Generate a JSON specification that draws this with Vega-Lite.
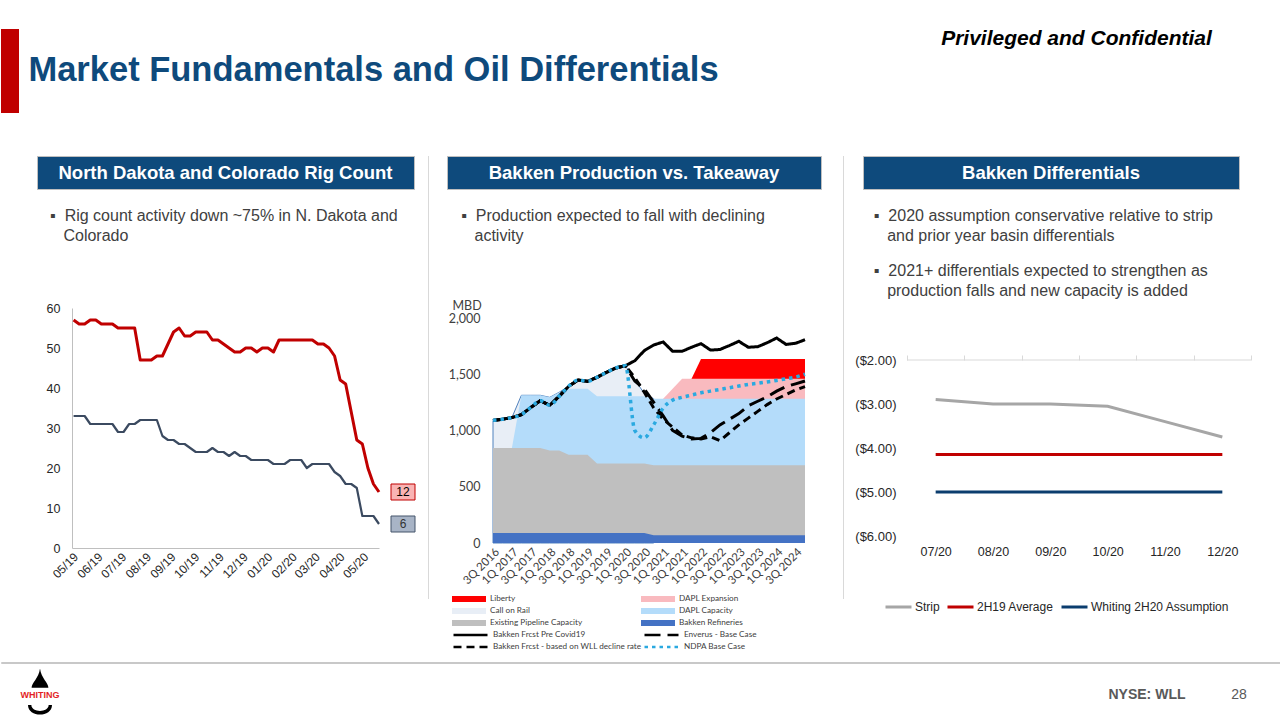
{
"$schema": "https://vega.github.io/schema/vega-lite/v6.json",
"background": "white",
"padding": {"left": 0, "top": 28, "right": 0, "bottom": 0},
"config": {"view": {"stroke": null}, "font": "Liberation Sans", "axis": {"labelFont": "Liberation Sans", "titleFont": "Liberation Sans"}, "legend": {"labelFont": "Liberation Sans"}},
"resolve": {"scale": {"color": "independent", "fill": "independent", "stroke": "independent", "strokeDash": "independent"}},
"spacing": 37,
"vconcat": [
 {"spacing": 220, "hconcat": [
  {"spacing": 9, "hconcat": [
   {"width": 18, "height": 84, "view": {"fill": "#c00000"}, "data": {"values": [{}]}, "mark": {"type": "text", "text": ""}, "encoding": {}},
   {"width": 691, "height": 84, "data": {"values": [{}]}, "mark": {"type": "text", "text": "Market Fundamentals and Oil Differentials", "font": "Liberation Sans", "fontSize": 34.5, "fontWeight": "bold", "color": "#0e4a7c", "baseline": "middle"}, "encoding": {}}
  ]},
  {"width": 275, "height": 20, "data": {"values": [{}]}, "mark": {"type": "text", "text": "Privileged and Confidential", "font": "Liberation Sans", "fontSize": 21, "fontWeight": "bold", "fontStyle": "italic", "color": "#000000", "baseline": "middle"}, "encoding": {}}
 ]},
 {"resolve": {"scale": {"color": "independent", "fill": "independent", "stroke": "independent", "strokeDash": "independent"}}, "spacing": 3, "vconcat": [
  {"resolve": {"scale": {"color": "independent", "fill": "independent", "stroke": "independent", "strokeDash": "independent"}}, "spacing": 34, "hconcat": [
   {"width": 1, "height": 1, "data": {"values": [{}]}, "mark": {"type": "text", "text": ""}, "encoding": {}},
   {"resolve": {"scale": {"color": "independent", "fill": "independent", "stroke": "independent", "strokeDash": "independent"}}, "spacing": 11, "hconcat": [
    {"resolve": {"scale": {"color": "independent", "fill": "independent", "stroke": "independent", "strokeDash": "independent"}}, "spacing": 18, "vconcat": [
     {"width": 377, "height": 33, "view": {"fill": "#0e4a7c", "stroke": "#bfbfbf", "strokeWidth": 1}, "data": {"values": [{"t": "North Dakota and Colorado Rig Count"}]}, "mark": {"type": "text", "color": "white", "font": "Liberation Sans", "fontWeight": "bold", "fontSize": 18.5, "baseline": "middle"}, "encoding": {"text": {"field": "t"}}},
     {"resolve": {"scale": {"color": "independent", "fill": "independent", "stroke": "independent", "strokeDash": "independent"}}, "spacing": 0, "hconcat": [
      {"width": 9, "height": 1, "data": {"values": [{}]}, "mark": {"type": "text", "text": ""}, "encoding": {}},
      {"width": 307, "height": 240,
       "title": {"text": ["▪\u00a0\u00a0Rig count activity down ~75% in N. Dakota and", "\u200b\u00a0\u00a0\u00a0Colorado"], "anchor": "start", "frame": "bounds", "offset": 58, "font": "Liberation Sans", "fontSize": 16, "fontWeight": "normal", "color": "#404040", "lineHeight": 20, "dx": 4},
       "encoding": {
        "x": {"field": "d", "type": "temporal", "scale": {"domain": [{"year": 2019, "month": 5, "date": 1}, {"year": 2020, "month": 5, "date": 22}]}, "axis": {"format": "%m/%y", "tickCount": {"interval": "month", "step": 1}, "labelAngle": -45, "grid": false, "ticks": false, "domainColor": "#bfbfbf", "labelFontSize": 12, "labelColor": "#262626", "labelPadding": 3, "labelOverlap": false, "labelFlush": false, "title": null}},
        "y": {"field": "v", "type": "quantitative", "scale": {"domain": [0, 60]}, "axis": {"values": [0, 10, 20, 30, 40, 50, 60], "grid": false, "ticks": false, "domainColor": "#bfbfbf", "labelFontSize": 12.5, "labelColor": "#262626", "labelPadding": 12, "title": null}}
       },
       "layer": [
        {"data": {"values": [
         {"d": "2019-05-03", "ND": 57, "CO": 33}, {"d": "2019-05-10", "ND": 56, "CO": 33}, {"d": "2019-05-17", "ND": 56, "CO": 33}, {"d": "2019-05-24", "ND": 57, "CO": 31},
         {"d": "2019-05-31", "ND": 57, "CO": 31}, {"d": "2019-06-07", "ND": 56, "CO": 31}, {"d": "2019-06-14", "ND": 56, "CO": 31}, {"d": "2019-06-21", "ND": 56, "CO": 31},
         {"d": "2019-06-28", "ND": 55, "CO": 29}, {"d": "2019-07-05", "ND": 55, "CO": 29}, {"d": "2019-07-12", "ND": 55, "CO": 31}, {"d": "2019-07-19", "ND": 55, "CO": 31},
         {"d": "2019-07-26", "ND": 47, "CO": 32}, {"d": "2019-08-02", "ND": 47, "CO": 32}, {"d": "2019-08-09", "ND": 47, "CO": 32}, {"d": "2019-08-16", "ND": 48, "CO": 32},
         {"d": "2019-08-23", "ND": 48, "CO": 28}, {"d": "2019-08-30", "ND": 51, "CO": 27}, {"d": "2019-09-06", "ND": 54, "CO": 27}, {"d": "2019-09-13", "ND": 55, "CO": 26},
         {"d": "2019-09-20", "ND": 53, "CO": 26}, {"d": "2019-09-27", "ND": 53, "CO": 25}, {"d": "2019-10-04", "ND": 54, "CO": 24}, {"d": "2019-10-11", "ND": 54, "CO": 24},
         {"d": "2019-10-18", "ND": 54, "CO": 24}, {"d": "2019-10-25", "ND": 52, "CO": 25}, {"d": "2019-11-01", "ND": 52, "CO": 24}, {"d": "2019-11-08", "ND": 51, "CO": 24},
         {"d": "2019-11-15", "ND": 50, "CO": 23}, {"d": "2019-11-22", "ND": 49, "CO": 24}, {"d": "2019-11-29", "ND": 49, "CO": 23}, {"d": "2019-12-06", "ND": 50, "CO": 23},
         {"d": "2019-12-13", "ND": 50, "CO": 22}, {"d": "2019-12-20", "ND": 49, "CO": 22}, {"d": "2019-12-27", "ND": 50, "CO": 22}, {"d": "2020-01-03", "ND": 50, "CO": 22},
         {"d": "2020-01-10", "ND": 49, "CO": 21}, {"d": "2020-01-17", "ND": 52, "CO": 21}, {"d": "2020-01-24", "ND": 52, "CO": 21}, {"d": "2020-01-31", "ND": 52, "CO": 22},
         {"d": "2020-02-07", "ND": 52, "CO": 22}, {"d": "2020-02-14", "ND": 52, "CO": 22}, {"d": "2020-02-21", "ND": 52, "CO": 20}, {"d": "2020-02-28", "ND": 52, "CO": 21},
         {"d": "2020-03-06", "ND": 51, "CO": 21}, {"d": "2020-03-13", "ND": 51, "CO": 21}, {"d": "2020-03-20", "ND": 50, "CO": 21}, {"d": "2020-03-27", "ND": 48, "CO": 19},
         {"d": "2020-04-03", "ND": 42, "CO": 18}, {"d": "2020-04-10", "ND": 41, "CO": 16}, {"d": "2020-04-17", "ND": 34, "CO": 16}, {"d": "2020-04-24", "ND": 27, "CO": 15},
         {"d": "2020-05-01", "ND": 26, "CO": 8}, {"d": "2020-05-08", "ND": 20, "CO": 8}, {"d": "2020-05-15", "ND": 16, "CO": 8}, {"d": "2020-05-22", "ND": 14, "CO": 6}
        ]},
         "transform": [{"fold": ["ND", "CO"], "as": ["s", "v"]}],
         "mark": {"type": "line", "strokeJoin": "round"},
         "encoding": {"color": {"field": "s", "type": "nominal", "scale": {"domain": ["ND", "CO"], "range": ["#c00000", "#3b4a60"]}, "legend": null},
                      "strokeWidth": {"condition": {"test": "datum.s === 'ND'", "value": 3}, "value": 2.2}}},
        {"data": {"values": [{"d": "2020-05-22", "v": 14, "s": "ND", "lbl": "12"}, {"d": "2020-05-22", "v": 6, "s": "CO", "lbl": "6"}]},
         "layer": [
          {"mark": {"type": "point", "shape": "M-1.5,-1H1.5V1H-1.5Z", "size": 256, "filled": true, "opacity": 1, "strokeWidth": 1, "xOffset": 24},
           "encoding": {"fill": {"condition": {"test": "datum.s === 'ND'", "value": "#f9b4b4"}, "value": "#a8b4c6"}, "stroke": {"condition": {"test": "datum.s === 'ND'", "value": "#c00000"}, "value": "#44546a"}}},
          {"mark": {"type": "text", "xOffset": 24, "fontSize": 12, "font": "Liberation Sans"},
           "encoding": {"text": {"field": "lbl"}, "color": {"condition": {"test": "datum.s === 'ND'", "value": "#000000"}, "value": "#333333"}}}
         ]}
       ]}
     ]}
    ]},
    {"resolve": {"scale": {"color": "independent", "fill": "independent", "stroke": "independent", "strokeDash": "independent"}}, "spacing": 17, "hconcat": [
     {"width": 1, "height": 443, "view": {"fill": "#d9d9d9"}, "data": {"values": [{}]}, "mark": {"type": "text", "text": ""}, "encoding": {}},
     {"resolve": {"scale": {"color": "independent", "fill": "independent", "stroke": "independent", "strokeDash": "independent"}}, "spacing": 21, "hconcat": [
      {"resolve": {"scale": {"color": "independent", "fill": "independent", "stroke": "independent", "strokeDash": "independent"}}, "spacing": 18, "vconcat": [
       {"width": 374, "height": 33, "view": {"fill": "#0e4a7c", "stroke": "#bfbfbf", "strokeWidth": 1}, "data": {"values": [{"t": "Bakken Production vs. Takeaway"}]}, "mark": {"type": "text", "color": "white", "font": "Liberation Sans", "fontWeight": "bold", "fontSize": 18.5, "baseline": "middle"}, "encoding": {"text": {"field": "t"}}},
       {"resolve": {"scale": {"color": "independent", "fill": "independent", "stroke": "independent", "strokeDash": "independent"}}, "spacing": 0, "hconcat": [
        {"width": 1, "height": 1, "data": {"values": [{}]}, "mark": {"type": "text", "text": ""}, "encoding": {}},
        {"width": 312, "height": 225,
         "title": {"text": ["▪\u00a0\u00a0Production expected to fall with declining", "\u200b\u00a0\u00a0\u00a0activity"], "anchor": "start", "frame": "bounds", "offset": 55, "font": "Liberation Sans", "fontSize": 16, "fontWeight": "normal", "color": "#404040", "lineHeight": 20, "dx": 13},
         "data": {"values": [
          {"q": "3Q 2016", "Bakken Refineries": 90, "Existing Pipeline Capacity": 845, "DAPL Capacity": 845, "Call on Rail": 1090, "Bakken Frcst Pre Covid19": 1090, "Enverus - Base Case": 1090, "Bakken Frcst - based on WLL decline rate": 1090, "NDPA Base Case": 1090},
          {"q": "4Q 2016", "Bakken Refineries": 90, "Existing Pipeline Capacity": 845, "DAPL Capacity": 845, "Call on Rail": 1100, "Bakken Frcst Pre Covid19": 1100, "Enverus - Base Case": 1100, "Bakken Frcst - based on WLL decline rate": 1100, "NDPA Base Case": 1100},
          {"q": "1Q 2017", "Bakken Refineries": 90, "Existing Pipeline Capacity": 845, "DAPL Capacity": 845, "Call on Rail": 1115, "Bakken Frcst Pre Covid19": 1115, "Enverus - Base Case": 1115, "Bakken Frcst - based on WLL decline rate": 1115, "NDPA Base Case": 1115},
          {"q": "2Q 2017", "Bakken Refineries": 90, "Existing Pipeline Capacity": 845, "DAPL Capacity": 1313, "Call on Rail": 1313, "Bakken Frcst Pre Covid19": 1140, "Enverus - Base Case": 1140, "Bakken Frcst - based on WLL decline rate": 1140, "NDPA Base Case": 1140},
          {"q": "3Q 2017", "Bakken Refineries": 90, "Existing Pipeline Capacity": 845, "DAPL Capacity": 1313, "Call on Rail": 1313, "Bakken Frcst Pre Covid19": 1205, "Enverus - Base Case": 1205, "Bakken Frcst - based on WLL decline rate": 1205, "NDPA Base Case": 1205},
          {"q": "4Q 2017", "Bakken Refineries": 90, "Existing Pipeline Capacity": 845, "DAPL Capacity": 1313, "Call on Rail": 1313, "Bakken Frcst Pre Covid19": 1265, "Enverus - Base Case": 1265, "Bakken Frcst - based on WLL decline rate": 1265, "NDPA Base Case": 1265},
          {"q": "1Q 2018", "Bakken Refineries": 90, "Existing Pipeline Capacity": 822, "DAPL Capacity": 1295, "Call on Rail": 1295, "Bakken Frcst Pre Covid19": 1224, "Enverus - Base Case": 1224, "Bakken Frcst - based on WLL decline rate": 1224, "NDPA Base Case": 1224},
          {"q": "2Q 2018", "Bakken Refineries": 90, "Existing Pipeline Capacity": 822, "DAPL Capacity": 1340, "Call on Rail": 1340, "Bakken Frcst Pre Covid19": 1304, "Enverus - Base Case": 1304, "Bakken Frcst - based on WLL decline rate": 1304, "NDPA Base Case": 1304},
          {"q": "3Q 2018", "Bakken Refineries": 90, "Existing Pipeline Capacity": 785, "DAPL Capacity": 1372, "Call on Rail": 1393, "Bakken Frcst Pre Covid19": 1393, "Enverus - Base Case": 1393, "Bakken Frcst - based on WLL decline rate": 1393, "NDPA Base Case": 1393},
          {"q": "4Q 2018", "Bakken Refineries": 90, "Existing Pipeline Capacity": 785, "DAPL Capacity": 1372, "Call on Rail": 1449, "Bakken Frcst Pre Covid19": 1449, "Enverus - Base Case": 1449, "Bakken Frcst - based on WLL decline rate": 1449, "NDPA Base Case": 1449},
          {"q": "1Q 2019", "Bakken Refineries": 90, "Existing Pipeline Capacity": 785, "DAPL Capacity": 1372, "Call on Rail": 1437, "Bakken Frcst Pre Covid19": 1437, "Enverus - Base Case": 1437, "Bakken Frcst - based on WLL decline rate": 1437, "NDPA Base Case": 1437},
          {"q": "2Q 2019", "Bakken Refineries": 90, "Existing Pipeline Capacity": 706, "DAPL Capacity": 1304, "Call on Rail": 1473, "Bakken Frcst Pre Covid19": 1473, "Enverus - Base Case": 1473, "Bakken Frcst - based on WLL decline rate": 1473, "NDPA Base Case": 1473},
          {"q": "3Q 2019", "Bakken Refineries": 90, "Existing Pipeline Capacity": 706, "DAPL Capacity": 1304, "Call on Rail": 1517, "Bakken Frcst Pre Covid19": 1517, "Enverus - Base Case": 1517, "Bakken Frcst - based on WLL decline rate": 1517, "NDPA Base Case": 1517},
          {"q": "4Q 2019", "Bakken Refineries": 90, "Existing Pipeline Capacity": 706, "DAPL Capacity": 1304, "Call on Rail": 1556, "Bakken Frcst Pre Covid19": 1556, "Enverus - Base Case": 1556, "Bakken Frcst - based on WLL decline rate": 1556, "NDPA Base Case": 1556},
          {"q": "1Q 2020", "Bakken Refineries": 90, "Existing Pipeline Capacity": 706, "DAPL Capacity": 1304, "Call on Rail": 1576, "Bakken Frcst Pre Covid19": 1576, "Enverus - Base Case": 1576, "Bakken Frcst - based on WLL decline rate": 1576, "NDPA Base Case": 1576},
          {"q": "2Q 2020", "Bakken Refineries": 90, "Existing Pipeline Capacity": 706, "DAPL Capacity": 1304, "Call on Rail": 1450, "Bakken Frcst Pre Covid19": 1620, "Enverus - Base Case": 1440, "Bakken Frcst - based on WLL decline rate": 1470, "NDPA Base Case": 1000},
          {"q": "3Q 2020", "Bakken Refineries": 90, "Existing Pipeline Capacity": 706, "DAPL Capacity": 1304, "Call on Rail": 1330, "Bakken Frcst Pre Covid19": 1710, "Enverus - Base Case": 1370, "Bakken Frcst - based on WLL decline rate": 1340, "NDPA Base Case": 935},
          {"q": "4Q 2020", "Bakken Refineries": 68, "Existing Pipeline Capacity": 692, "DAPL Capacity": 1282, "Call on Rail": 1282, "Bakken Frcst Pre Covid19": 1760, "Enverus - Base Case": 1250, "Bakken Frcst - based on WLL decline rate": 1200, "NDPA Base Case": 1050},
          {"q": "1Q 2021", "Bakken Refineries": 68, "Existing Pipeline Capacity": 692, "DAPL Capacity": 1282, "DAPL Expansion": 1282, "Bakken Frcst Pre Covid19": 1787, "Enverus - Base Case": 1130, "Bakken Frcst - based on WLL decline rate": 1100, "NDPA Base Case": 1200},
          {"q": "2Q 2021", "Bakken Refineries": 68, "Existing Pipeline Capacity": 692, "DAPL Capacity": 1282, "DAPL Expansion": 1371, "Bakken Frcst Pre Covid19": 1704, "Enverus - Base Case": 1000, "Bakken Frcst - based on WLL decline rate": 1030, "NDPA Base Case": 1270},
          {"q": "3Q 2021", "Bakken Refineries": 68, "Existing Pipeline Capacity": 692, "DAPL Capacity": 1282, "DAPL Expansion": 1460, "Bakken Frcst Pre Covid19": 1704, "Enverus - Base Case": 950, "Bakken Frcst - based on WLL decline rate": 960, "NDPA Base Case": 1295},
          {"q": "4Q 2021", "Bakken Refineries": 68, "Existing Pipeline Capacity": 692, "DAPL Capacity": 1282, "DAPL Expansion": 1460, "Liberty": 1460, "Bakken Frcst Pre Covid19": 1740, "Enverus - Base Case": 925, "Bakken Frcst - based on WLL decline rate": 935, "NDPA Base Case": 1315},
          {"q": "1Q 2022", "Bakken Refineries": 68, "Existing Pipeline Capacity": 692, "DAPL Capacity": 1282, "DAPL Expansion": 1460, "Liberty": 1635, "Bakken Frcst Pre Covid19": 1772, "Enverus - Base Case": 930, "Bakken Frcst - based on WLL decline rate": 925, "NDPA Base Case": 1335},
          {"q": "2Q 2022", "Bakken Refineries": 68, "Existing Pipeline Capacity": 692, "DAPL Capacity": 1282, "DAPL Expansion": 1460, "Liberty": 1635, "Bakken Frcst Pre Covid19": 1715, "Enverus - Base Case": 980, "Bakken Frcst - based on WLL decline rate": 945, "NDPA Base Case": 1350},
          {"q": "3Q 2022", "Bakken Refineries": 68, "Existing Pipeline Capacity": 692, "DAPL Capacity": 1282, "DAPL Expansion": 1460, "Liberty": 1635, "Bakken Frcst Pre Covid19": 1720, "Enverus - Base Case": 1050, "Bakken Frcst - based on WLL decline rate": 910, "NDPA Base Case": 1365},
          {"q": "4Q 2022", "Bakken Refineries": 68, "Existing Pipeline Capacity": 692, "DAPL Capacity": 1282, "DAPL Expansion": 1460, "Liberty": 1635, "Bakken Frcst Pre Covid19": 1755, "Enverus - Base Case": 1100, "Bakken Frcst - based on WLL decline rate": 980, "NDPA Base Case": 1380},
          {"q": "1Q 2023", "Bakken Refineries": 68, "Existing Pipeline Capacity": 692, "DAPL Capacity": 1282, "DAPL Expansion": 1460, "Liberty": 1635, "Bakken Frcst Pre Covid19": 1793, "Enverus - Base Case": 1150, "Bakken Frcst - based on WLL decline rate": 1050, "NDPA Base Case": 1395},
          {"q": "2Q 2023", "Bakken Refineries": 68, "Existing Pipeline Capacity": 692, "DAPL Capacity": 1282, "DAPL Expansion": 1460, "Liberty": 1635, "Bakken Frcst Pre Covid19": 1740, "Enverus - Base Case": 1220, "Bakken Frcst - based on WLL decline rate": 1110, "NDPA Base Case": 1410},
          {"q": "3Q 2023", "Bakken Refineries": 68, "Existing Pipeline Capacity": 692, "DAPL Capacity": 1282, "DAPL Expansion": 1460, "Liberty": 1635, "Bakken Frcst Pre Covid19": 1745, "Enverus - Base Case": 1260, "Bakken Frcst - based on WLL decline rate": 1170, "NDPA Base Case": 1420},
          {"q": "4Q 2023", "Bakken Refineries": 68, "Existing Pipeline Capacity": 692, "DAPL Capacity": 1282, "DAPL Expansion": 1460, "Liberty": 1635, "Bakken Frcst Pre Covid19": 1780, "Enverus - Base Case": 1300, "Bakken Frcst - based on WLL decline rate": 1230, "NDPA Base Case": 1432},
          {"q": "1Q 2024", "Bakken Refineries": 68, "Existing Pipeline Capacity": 692, "DAPL Capacity": 1282, "DAPL Expansion": 1460, "Liberty": 1635, "Bakken Frcst Pre Covid19": 1822, "Enverus - Base Case": 1350, "Bakken Frcst - based on WLL decline rate": 1280, "NDPA Base Case": 1445},
          {"q": "2Q 2024", "Bakken Refineries": 68, "Existing Pipeline Capacity": 692, "DAPL Capacity": 1282, "DAPL Expansion": 1460, "Liberty": 1635, "Bakken Frcst Pre Covid19": 1765, "Enverus - Base Case": 1390, "Bakken Frcst - based on WLL decline rate": 1320, "NDPA Base Case": 1460},
          {"q": "3Q 2024", "Bakken Refineries": 68, "Existing Pipeline Capacity": 692, "DAPL Capacity": 1282, "DAPL Expansion": 1460, "Liberty": 1635, "Bakken Frcst Pre Covid19": 1775, "Enverus - Base Case": 1415, "Bakken Frcst - based on WLL decline rate": 1360, "NDPA Base Case": 1475},
          {"q": "4Q 2024", "Bakken Refineries": 68, "Existing Pipeline Capacity": 692, "DAPL Capacity": 1282, "DAPL Expansion": 1460, "Liberty": 1635, "Bakken Frcst Pre Covid19": 1807, "Enverus - Base Case": 1440, "Bakken Frcst - based on WLL decline rate": 1390, "NDPA Base Case": 1500}
         ]},
         "transform": [{"fold": ["Liberty", "DAPL Expansion", "Call on Rail", "DAPL Capacity", "Existing Pipeline Capacity", "Bakken Refineries", "Bakken Frcst Pre Covid19", "Enverus - Base Case", "Bakken Frcst - based on WLL decline rate", "NDPA Base Case"], "as": ["s", "v"]}],
         "encoding": {
          "x": {"field": "q", "type": "ordinal", "scale": {"type": "point", "padding": 0, "domain": ["3Q 2016","4Q 2016","1Q 2017","2Q 2017","3Q 2017","4Q 2017","1Q 2018","2Q 2018","3Q 2018","4Q 2018","1Q 2019","2Q 2019","3Q 2019","4Q 2019","1Q 2020","2Q 2020","3Q 2020","4Q 2020","1Q 2021","2Q 2021","3Q 2021","4Q 2021","1Q 2022","2Q 2022","3Q 2022","4Q 2022","1Q 2023","2Q 2023","3Q 2023","4Q 2023","1Q 2024","2Q 2024","3Q 2024","4Q 2024"]},
                "axis": {"values": ["3Q 2016","1Q 2017","3Q 2017","1Q 2018","3Q 2018","1Q 2019","3Q 2019","1Q 2020","3Q 2020","1Q 2021","3Q 2021","1Q 2022","3Q 2022","1Q 2023","3Q 2023","1Q 2024","3Q 2024"], "labelAngle": -45, "domain": false, "ticks": false, "grid": false, "title": null, "labelFont": "Lato", "labelFontSize": 11.5, "labelColor": "#404040", "labelPadding": 3}},
          "y": {"field": "v", "type": "quantitative", "stack": null, "scale": {"domain": [0, 2000], "nice": false},
                "axis": {"values": [0, 500, 1000, 1500, 2000], "format": ",.0f", "domain": false, "ticks": false, "grid": false, "title": "MBD", "titleAngle": 0, "titleX": -41, "titleY": -9, "titleAlign": "left", "titleBaseline": "alphabetic", "titleFont": "Lato", "titleFontSize": 12.5, "titleFontWeight": "normal", "titleColor": "#404040", "labelFont": "Lato", "labelFontSize": 12.5, "labelColor": "#404040", "labelPadding": 13}}
         },
         "layer": [
          {"encoding": {"fill": {"field": "s", "type": "nominal", "scale": {"domain": ["Liberty", "Call on Rail", "Existing Pipeline Capacity", "DAPL Expansion", "DAPL Capacity", "Bakken Refineries"], "range": ["#ff0000", "#e8eef6", "#bfbfbf", "#f9babf", "#b4dcfa", "#4472c4"]},
             "legend": {"orient": "none", "legendX": -41, "legendY": 275, "columns": 2, "columnPadding": 58, "title": null, "symbolType": "M-1,-0.17H1V0.17H-1Z", "symbolSize": 1156, "symbolStrokeWidth": 0, "clipHeight": 12, "rowPadding": 0, "labelFont": "Lato", "labelFontSize": 8.2, "labelColor": "#404040", "labelOffset": 4, "labelLimit": 250}}},
           "layer": [
            {"transform": [{"filter": "datum.s === 'Liberty'"}], "mark": {"type": "area", "opacity": 1}},
            {"transform": [{"filter": "datum.s === 'DAPL Expansion'"}], "mark": {"type": "area", "opacity": 1}},
            {"transform": [{"filter": "datum.s === 'Call on Rail'"}], "mark": {"type": "area", "opacity": 1, "stroke": "#4f81bd", "strokeWidth": 1}},
            {"transform": [{"filter": "datum.s === 'DAPL Capacity'"}], "mark": {"type": "area", "opacity": 1}},
            {"transform": [{"filter": "datum.s === 'Existing Pipeline Capacity'"}], "mark": {"type": "area", "opacity": 1}},
            {"transform": [{"filter": "datum.s === 'Bakken Refineries'"}], "mark": {"type": "area", "opacity": 1}}
           ]},
          {"encoding": {"stroke": {"field": "s", "type": "nominal", "scale": {"domain": ["Bakken Frcst Pre Covid19", "Bakken Frcst - based on WLL decline rate", "Enverus - Base Case", "NDPA Base Case"], "range": ["#000000", "#000000", "#000000", "#2aa9e0"]},
             "legend": {"orient": "none", "legendX": -41, "legendY": 311, "columns": 2, "columnPadding": 1, "title": null, "symbolType": "stroke", "symbolSize": 1156, "symbolStrokeWidth": 2.5, "clipHeight": 12, "rowPadding": 0, "labelFont": "Lato", "labelFontSize": 8.2, "labelColor": "#404040", "labelOffset": 4, "labelLimit": 250}},
             "strokeDash": {"field": "s", "type": "nominal", "scale": {"domain": ["Bakken Frcst Pre Covid19", "Bakken Frcst - based on WLL decline rate", "Enverus - Base Case", "NDPA Base Case"], "range": [[1, 0], [8, 5], [16, 7], [3.5, 4]]}}},
           "layer": [
            {"transform": [{"filter": "datum.s === 'Bakken Frcst Pre Covid19'"}], "mark": {"type": "line", "strokeWidth": 3}},
            {"transform": [{"filter": "datum.s === 'Enverus - Base Case'"}], "mark": {"type": "line", "strokeWidth": 3}},
            {"transform": [{"filter": "datum.s === 'Bakken Frcst - based on WLL decline rate'"}], "mark": {"type": "line", "strokeWidth": 3}},
            {"transform": [{"filter": "datum.s === 'NDPA Base Case'"}], "mark": {"type": "line", "strokeWidth": 3.5, "interpolate": "monotone"}}
           ]}
         ]}
       ]}
      ]},
      {"resolve": {"scale": {"color": "independent", "fill": "independent", "stroke": "independent", "strokeDash": "independent"}}, "spacing": 8, "hconcat": [
       {"width": 1, "height": 443, "view": {"fill": "#d9d9d9"}, "data": {"values": [{}]}, "mark": {"type": "text", "text": ""}, "encoding": {}},
       {"resolve": {"scale": {"color": "independent", "fill": "independent", "stroke": "independent", "strokeDash": "independent"}}, "spacing": 18, "vconcat": [
        {"spacing": 0, "hconcat": [
         {"width": 10, "height": 1, "data": {"values": [{}]}, "mark": {"type": "text", "text": ""}, "encoding": {}},
         {"width": 376, "height": 33, "view": {"fill": "#0e4a7c", "stroke": "#bfbfbf", "strokeWidth": 1}, "data": {"values": [{"t": "Bakken Differentials"}]}, "mark": {"type": "text", "color": "white", "font": "Liberation Sans", "fontWeight": "bold", "fontSize": 18.5, "baseline": "middle"}, "encoding": {"text": {"field": "t"}}}
        ]},
        {"resolve": {"scale": {"color": "independent", "fill": "independent", "stroke": "independent", "strokeDash": "independent"}}, "spacing": 0, "hconcat": [
         {"width": 2, "height": 1, "data": {"values": [{}]}, "mark": {"type": "text", "text": ""}, "encoding": {}},
         {"width": 344, "height": 176,
          "title": {"text": ["▪\u00a0\u00a02020 assumption conservative relative to strip", "\u200b\u00a0\u00a0\u00a0and prior year basin differentials"], "subtitle": ["▪\u00a0\u00a02021+ differentials expected to strengthen as", "\u200b\u00a0\u00a0\u00a0production falls and new capacity is added"], "anchor": "start", "frame": "bounds", "offset": 55, "font": "Liberation Sans", "fontSize": 16, "fontWeight": "normal", "color": "#404040", "lineHeight": 20, "subtitleFont": "Liberation Sans", "subtitleFontSize": 16, "subtitleColor": "#404040", "subtitleLineHeight": 20, "subtitlePadding": 19, "dx": 19},
          "resolve": {"scale": {"x": "independent"}, "axis": {"x": "independent"}},
          "layer": [
           {"data": {"values": [{}]}, "mark": {"type": "rule", "color": "#d9d9d9", "strokeWidth": 1}, "encoding": {"y": {"datum": -2, "type": "quantitative", "scale": {"domain": [-6, -2], "nice": false, "zero": false}}}},
           {"data": {"values": [{"m": "07/20"}, {"m": "08/20"}, {"m": "09/20"}, {"m": "10/20"}, {"m": "11/20"}, {"m": "12/20"}]},
            "mark": {"type": "point", "opacity": 0},
            "encoding": {"x": {"field": "m", "type": "ordinal", "sort": null, "scale": {"type": "band", "paddingInner": 0, "paddingOuter": 0}, "axis": {"orient": "top", "labels": false, "domain": false, "ticks": true, "tickBand": "extent", "tickColor": "#d9d9d9", "tickSize": 5, "tickWidth": 1, "grid": false, "title": null}}}},
           {"data": {"values": [
             {"m": "07/20", "Strip": -2.9, "2H19 Average": -4.15, "Whiting 2H20 Assumption": -5.0},
             {"m": "08/20", "Strip": -3.0, "2H19 Average": -4.15, "Whiting 2H20 Assumption": -5.0},
             {"m": "09/20", "Strip": -3.0, "2H19 Average": -4.15, "Whiting 2H20 Assumption": -5.0},
             {"m": "10/20", "Strip": -3.05, "2H19 Average": -4.15, "Whiting 2H20 Assumption": -5.0},
             {"m": "11/20", "Strip": -3.4, "2H19 Average": -4.15, "Whiting 2H20 Assumption": -5.0},
             {"m": "12/20", "Strip": -3.75, "2H19 Average": -4.15, "Whiting 2H20 Assumption": -5.0}
            ]},
            "transform": [{"fold": ["Strip", "2H19 Average", "Whiting 2H20 Assumption"], "as": ["s", "v"]}],
            "mark": {"type": "line", "strokeWidth": 3},
            "encoding": {
             "x": {"field": "m", "type": "ordinal", "sort": null, "scale": {"type": "point", "padding": 0.5}, "axis": {"domain": false, "ticks": false, "grid": false, "labelAngle": 0, "labelPadding": 9, "labelFontSize": 12.5, "labelColor": "#262626", "title": null}},
             "y": {"field": "v", "type": "quantitative", "scale": {"domain": [-6, -2], "nice": false, "zero": false}, "axis": {"values": [-6, -5, -4, -3, -2], "labelExpr": "'($' + format(-datum.value, '.2f') + ')'", "domain": false, "ticks": false, "grid": false, "title": null, "labelFontSize": 13, "labelColor": "#262626", "labelPadding": 11}},
             "color": {"field": "s", "type": "nominal", "scale": {"domain": ["Strip", "2H19 Average", "Whiting 2H20 Assumption"], "range": ["#a6a6a6", "#c00000", "#0b3d6e"]},
              "legend": {"orient": "none", "legendX": -23, "legendY": 239, "direction": "horizontal", "title": null, "symbolType": "stroke", "symbolSize": 676, "symbolStrokeWidth": 3, "clipHeight": 16, "labelFontSize": 12, "labelColor": "#262626", "labelOffset": 2, "columnPadding": 6}}
            }}
          ]}
        ]}
       ]}
      ]}
     ]}
    ]}
   ]}
  ]},
  {"spacing": 0, "vconcat": [
   {"width": 1280, "height": 1, "view": {"stroke": "#c8c8c8", "strokeWidth": 1}, "data": {"values": [{}]}, "mark": {"type": "text", "text": ""}, "encoding": {}},
   {"spacing": 1029, "hconcat": [
    {"width": 78, "height": 48, "data": {"values": [{}]},
     "layer": [
      {"mark": {"type": "point", "shape": "M0,-1.1 C0.05,-0.7 0.35,-0.5 0.35,-0.3 L-0.35,-0.3 C-0.35,-0.5 -0.05,-0.7 0,-1.1 Z M-0.5,0.42 C-0.5,0.95 0.5,0.95 0.5,0.42 L0.36,0.42 C0.36,0.75 -0.36,0.75 -0.36,0.42 Z", "size": 2304, "filled": true, "opacity": 1, "color": "#000000"}, "encoding": {}},
      {"mark": {"type": "text", "text": "WHITING", "font": "Liberation Sans", "fontWeight": "bold", "fontSize": 9, "color": "#e31f26"}, "encoding": {}}
     ]},
    {"spacing": 43, "hconcat": [
     {"width": 78, "height": 48, "data": {"values": [{}]}, "mark": {"type": "text", "text": "NYSE: WLL", "font": "Liberation Sans", "fontWeight": "bold", "fontSize": 14, "color": "#595959"}, "encoding": {}},
     {"width": 20, "height": 48, "data": {"values": [{}]}, "mark": {"type": "text", "text": "28", "font": "Liberation Sans", "fontSize": 14, "color": "#595959"}, "encoding": {}}
    ]}
   ]}
  ]}
 ]}
]
}
